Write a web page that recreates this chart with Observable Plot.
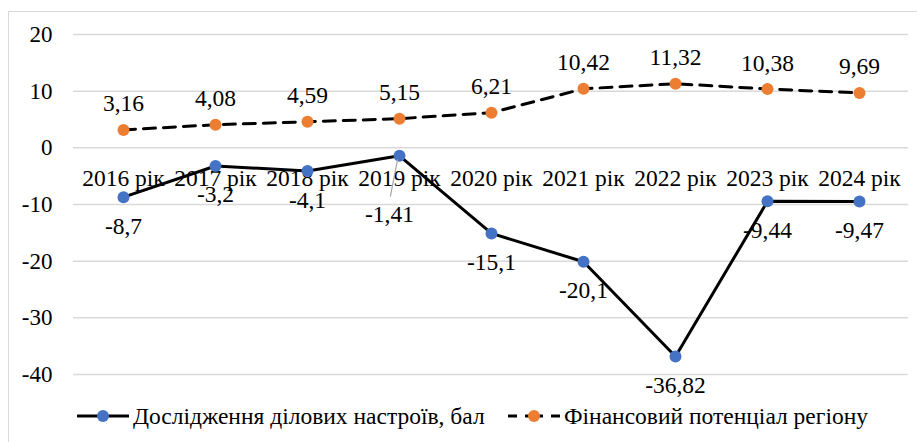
<!DOCTYPE html>
<html>
<head>
<meta charset="utf-8">
<script src="https://cdn.jsdelivr.net/npm/d3@7"></script>
<script src="https://cdn.jsdelivr.net/npm/@observablehq/plot@0.6"></script>
<style>
  body { margin: 0; background: #fff; }
  #wrap { position: relative; width: 917px; height: 442px; overflow: hidden; font-family: 'Liberation Serif', 'Times New Roman', serif; }
  #frame { position: absolute; left: 8px; top: 11px; width: 960px; height: 500px; border: 1.5px solid #d9d9d9; box-sizing: border-box; pointer-events: none; }
  #chart { position: absolute; left: 0; top: 0; }
  #legend { position: absolute; left: 0; top: 398px; width: 917px; height: 40px; font-size: 23.5px; color: #000; }
  .item { position: absolute; top: 0; display: flex; align-items: center; height: 36px; white-space: nowrap; }
  #chart svg text { font-family: 'Liberation Serif', 'Times New Roman', serif !important; }
</style>
</head>
<body>
<div id="wrap">
  <div id="frame"></div>
  <div id="chart"></div>
  <div id="legend"></div>
</div>
<script>
const categories = ["2016 рік", "2017 рік", "2018 рік", "2019 рік", "2020 рік", "2021 рік", "2022 рік", "2023 рік", "2024 рік"];
const businessMood = [-8.7, -3.2, -4.1, -1.41, -15.1, -20.1, -36.82, -9.44, -9.47];
const financialPotential = [3.16, 4.08, 4.59, 5.15, 6.21, 10.42, 11.32, 10.38, 9.69];
const yTicks = [-40, -30, -20, -10, 0, 10, 20];
const seriesNames = ["Дослідження ділових настроїв, бал", "Фінансовий потенціал регіону"];

const blue = "#4472C4", orange = "#ED7D31";
const fmt = v => String(v).replace(".", ",");

const mood = categories.map((c, i) => ({cat: c, v: businessMood[i]}));
const fin = categories.map((c, i) => ({cat: c, v: financialPotential[i]}));
const leaderCat = "2019 рік";
const moodMain = mood.filter(d => d.cat !== leaderCat);
const moodLeader = mood.filter(d => d.cat === leaderCat);

const font = "'Liberation Serif', 'Times New Roman', serif";
const fs = 23.5;

const chart = Plot.plot({
  width: 917,
  height: 395,
  marginLeft: 73,
  marginRight: 9,
  marginTop: 34,
  marginBottom: 21,
  style: {fontFamily: font, fontSize: fs + "px", background: "transparent", overflow: "visible"},
  x: {type: "point", domain: categories, padding: 0.5, axis: null},
  y: {domain: [-40, 20], ticks: yTicks},
  marks: [
    Plot.gridY(yTicks, {stroke: "#d9d9d9", strokeOpacity: 1, strokeWidth: 1.5}),
    Plot.axisY(yTicks, {tickSize: 0, tickPadding: 21, tickFormat: d => String(d), fontSize: 23, fill: "#000", label: null}),
    Plot.text(categories, {x: d => d, y: () => 0, dy: 31, fontSize: fs, fill: "#000"}),
    Plot.line(fin, {x: "cat", y: "v", stroke: "#000", strokeWidth: 3, strokeDasharray: "12,8"}),
    Plot.line(mood, {x: "cat", y: "v", stroke: "#000", strokeWidth: 3}),
    Plot.dot(fin, {x: "cat", y: "v", r: 6, fill: orange, stroke: "none"}),
    Plot.dot(mood, {x: "cat", y: "v", r: 6, fill: blue, stroke: "none"}),
    Plot.text(fin, {x: "cat", y: "v", text: d => fmt(d.v), dy: -26, fontSize: fs, fill: "#000"}),
    Plot.text(moodMain, {x: "cat", y: "v", text: d => fmt(d.v), dy: 29, fontSize: fs, fill: "#000"}),
    Plot.vector(moodLeader, {x: "cat", y: "v", length: 37, rotate: 191, anchor: "start", dy: 4, dx: -2,
      stroke: "#a6a6a6", strokeWidth: 1.2,
      shape: {draw(ctx, l) { ctx.moveTo(0, 0); ctx.lineTo(0, -l); }}}),
    Plot.text(moodLeader, {x: "cat", y: "v", text: d => fmt(d.v), dy: 59, dx: -10, fontSize: fs, fill: "#000"})
  ]
});
document.getElementById("chart").appendChild(chart);

// Legend
const legend = document.getElementById("legend");
function swatch(color, dashed) {
  const ns = "http://www.w3.org/2000/svg";
  const svg = document.createElementNS(ns, "svg");
  svg.setAttribute("width", 52); svg.setAttribute("height", 14);
  svg.style.marginRight = "4px";
  const line = document.createElementNS(ns, "line");
  line.setAttribute("x1", 0); line.setAttribute("x2", 52);
  line.setAttribute("y1", 7); line.setAttribute("y2", 7);
  line.setAttribute("stroke", "#000"); line.setAttribute("stroke-width", 3);
  if (dashed) line.setAttribute("stroke-dasharray", "9,8,18,8,9");
  svg.appendChild(line);
  const c = document.createElementNS(ns, "circle");
  c.setAttribute("cx", 26); c.setAttribute("cy", 7); c.setAttribute("r", 6);
  c.setAttribute("fill", color);
  svg.appendChild(c);
  return svg;
}
const items = [
  {name: seriesNames[0], color: blue, dashed: false, left: 77},
  {name: seriesNames[1], color: orange, dashed: true, left: 508}
];
items.forEach(it => {
  const d = document.createElement("div");
  d.className = "item";
  d.style.left = it.left + "px";
  d.appendChild(swatch(it.color, it.dashed));
  const s = document.createElement("span");
  s.textContent = it.name;
  d.appendChild(s);
  legend.appendChild(d);
});
</script>
</body>
</html>
